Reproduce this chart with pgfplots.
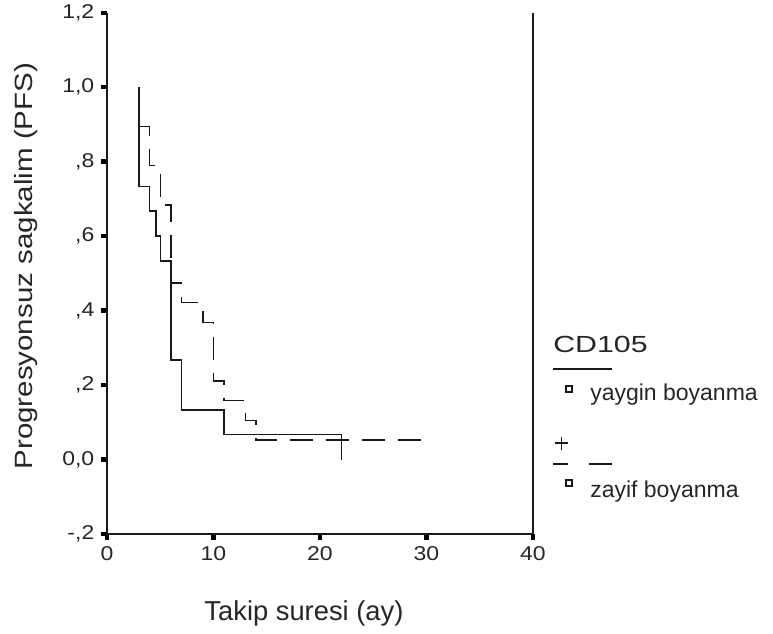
\documentclass[border=0pt]{standalone}
\usepackage{fontspec}
\setmainfont{Liberation Sans}
\newfontfamily\tickfont[FakeStretch=1.15]{Liberation Sans}
\newfontfamily\ylabfont[FakeStretch=1.18]{Liberation Sans}
\newfontfamily\cdfont[FakeStretch=1.3]{Liberation Sans}
\usepackage{pgfplots}
\pgfplotsset{compat=1.18}

\begin{document}
\begin{tikzpicture}
% 1 px of the reference = 0.75pt
\useasboundingbox (0,0) rectangle (579.75pt,-474.75pt);
\begin{axis}[
    at={(80.25pt,-400.5pt)}, anchor=south west,
    scale only axis, width=319.5pt, height=391pt,
    xmin=0, xmax=40, ymin=-0.2, ymax=1.2,
    axis lines*=left,
    axis line style={line width=1.8pt, black!90},
    xtick={0,10,20,30,40}, xticklabels={0,10,20,30,40},
    ytick={-0.2,0,0.2,0.4,0.6,0.8,1.0,1.2},
    yticklabels={-{,}2,0{,}0,{,}2,{,}4,{,}6,{,}8,1{,}0,1{,}2},
    tick align=outside, major tick length=4.5pt,
    tick style={line width=3.2pt, black},
    tick label style={font=\tickfont\fontsize{15}{18}\selectfont, text=black!85},
    yticklabel style={xshift=-1.5pt},
    xticklabel style={yshift=-1.5pt},
    xlabel={Takip suresi (ay)},
    xlabel style={at={(axis description cs:0.4624,-0.165)}, anchor=base,
                  font=\fontsize{20.5}{24}\selectfont, text=black!85},
    ylabel={Progresyonsuz sagkalim (PFS)},
    ylabel style={at={(axis description cs:-0.19,0.5138)}, anchor=center,
                  font=\ylabfont\fontsize{18.75}{22}\selectfont, text=black!85},
    clip=false,
]
% yaygin boyanma
\addplot[const plot, line width=1.1pt, black!90] coordinates {
(3,1.0)(3,0.733)(4,0.667)(4.6,0.600)(5,0.533)(6,0.267)(7,0.133)(11,0.067)(22,0.067)(22,0.0)};
% zayif boyanma
\addplot[const plot, line width=1.1pt, black!90, dash pattern=on 17.25pt off 9.75pt] coordinates {
(3,1.0)(3,0.895)(4,0.789)(5,0.684)(6,0.474)(7,0.421)(9,0.368)(10,0.211)(11,0.158)(13,0.105)(14,0.053)(30,0.053)};
\draw[line width=1.5pt, black!90] (rel axis cs:1,0) -- (rel axis cs:1,1);
\end{axis}
\begin{scope}[x=0.75pt, y=-0.75pt]
\node[anchor=base west, inner sep=0, text=black!85, font=\cdfont\fontsize{17.5}{20}\selectfont] at (553,352) {CD105};
\draw[line width=1pt, black!90] (553,369) -- (612,369);
\draw[line width=0.8pt, black!90] (566,386) rectangle (572,392);
\node[anchor=base west, inner sep=0, text=black!85, font=\fontsize{17.25}{20}\selectfont] at (590,400) {yaygin boyanma};
\draw[line width=1pt, black!90] (555,443) -- (568,443) (561.5,437) -- (561.5,450);
\draw[line width=1pt, black!90] (553,464) -- (568,464) (589,464) -- (612,464);
\draw[line width=0.8pt, black!90] (566,480) rectangle (572,486);
\node[anchor=base west, inner sep=0, text=black!85, font=\fontsize{17.25}{20}\selectfont] at (590,497) {zayif boyanma};
\end{scope}
\end{tikzpicture}
\end{document}
